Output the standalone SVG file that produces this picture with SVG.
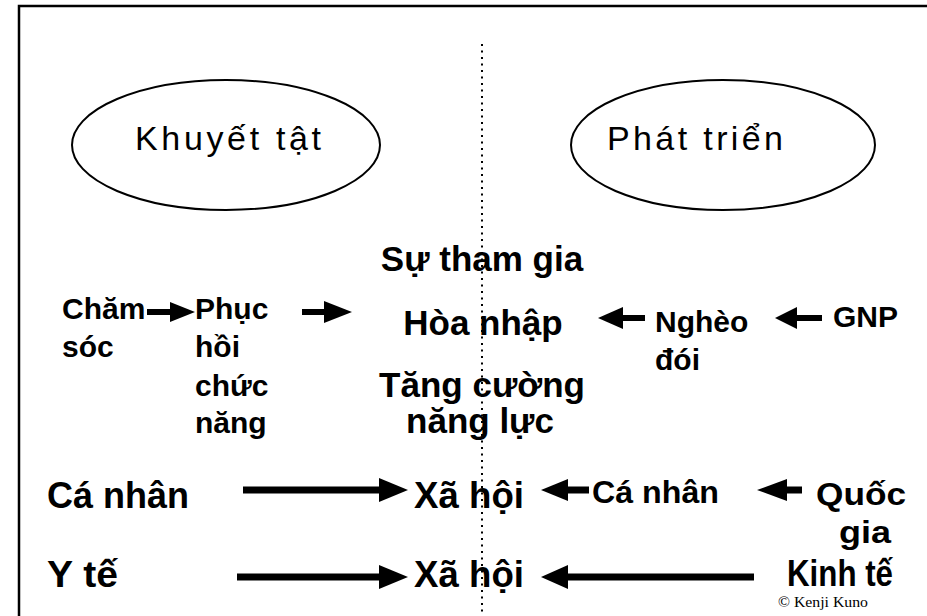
<svg xmlns="http://www.w3.org/2000/svg" width="927" height="616" viewBox="0 0 927 616">
<defs>
<style>
.t{font-family:"Liberation Sans",Arial,sans-serif;fill:#000}
.b{font-weight:bold}
.big{font-size:37px}
.mid{font-size:35px}
.sm{font-size:30px}
.ell{fill:none;stroke:#000;stroke-width:2}
.sh{stroke:#000;fill:none}
.hd{fill:#000}
</style>
</defs>
<rect x="19" y="6" width="920" height="620" fill="#fff" stroke="#000" stroke-width="2.5"/>
<line x1="482" y1="44" x2="482" y2="616" stroke="#000" stroke-width="2" stroke-dasharray="2 4.5"/>
<g id="khuyet-tat">
<ellipse class="ell" cx="226" cy="145" rx="154" ry="65"/>
<text class="t" x="135" y="150" font-size="34" textLength="186" lengthAdjust="spacing">Khuyết tật</text>
</g>
<g id="phat-trien">
<ellipse class="ell" cx="723" cy="145" rx="152" ry="65"/>
<text class="t" x="607" y="150" font-size="34" textLength="176" lengthAdjust="spacing">Phát triển</text>
</g>
<g id="su-tham-gia"><text class="t b mid" x="482" y="271" text-anchor="middle">Sự tham gia</text></g>
<g id="hoa-nhap"><text class="t b mid" x="483" y="335" text-anchor="middle">Hòa nhập</text></g>
<g id="tang-cuong"><text class="t b mid" x="482" y="397" text-anchor="middle">Tăng cường</text><text class="t b mid" x="480" y="433" text-anchor="middle">năng lực</text></g>
<g id="cham-soc"><text class="t b sm" x="62" y="319">Chăm</text><text class="t b sm" x="62" y="357">sóc</text></g>
<g id="phuc-hoi"><text class="t b sm" x="195" y="319">Phục</text><text class="t b sm" x="195" y="357">hồi</text><text class="t b sm" x="195" y="396">chức</text><text class="t b sm" x="195" y="433">năng</text></g>
<g id="ngheo-doi"><text class="t b sm" x="655" y="332">Nghèo</text><text class="t b sm" x="655" y="370">đói</text></g>
<g id="gnp"><text class="t b sm" x="833" y="327">GNP</text></g>
<g id="ca-nhan-left"><text class="t b big" x="47" y="508" textLength="142" lengthAdjust="spacingAndGlyphs">Cá nhân</text></g>
<g id="xa-hoi-1"><text class="t b big" x="414" y="508" textLength="110" lengthAdjust="spacingAndGlyphs">Xã hội</text></g>
<g id="ca-nhan-right"><text class="t b" font-size="31" x="592" y="503" textLength="127" lengthAdjust="spacingAndGlyphs">Cá nhân</text></g>
<g id="quoc-gia"><text class="t b" font-size="32" x="816" y="505" textLength="90" lengthAdjust="spacingAndGlyphs">Quốc</text><text class="t b" font-size="32" x="839" y="543" textLength="52" lengthAdjust="spacingAndGlyphs">gia</text></g>
<g id="y-te"><text class="t b big" x="47" y="587" textLength="71" lengthAdjust="spacingAndGlyphs">Y tế</text></g>
<g id="xa-hoi-2"><text class="t b big" x="414" y="587" textLength="110" lengthAdjust="spacingAndGlyphs">Xã hội</text></g>
<g id="kinh-te"><text class="t b big" x="787" y="586" textLength="106" lengthAdjust="spacingAndGlyphs">Kinh tế</text></g>
<g id="copyright"><text x="778" y="607" font-family="'Liberation Serif','Times New Roman',serif" font-size="15" textLength="90" lengthAdjust="spacingAndGlyphs">© Kenji Kuno</text></g>
<g id="connectors">
<line class="sh" x1="147" y1="312" x2="172" y2="312" stroke-width="6"/><polygon class="hd" points="170,302 195,312 170,322"/>
<line class="sh" x1="302" y1="312" x2="326" y2="312" stroke-width="6"/><polygon class="hd" points="324,301 352,312 324,323"/>
<line class="sh" x1="621" y1="318" x2="645" y2="318" stroke-width="6"/><polygon class="hd" points="623,307 598,318 623,329"/>
<line class="sh" x1="795" y1="318" x2="822" y2="318" stroke-width="6"/><polygon class="hd" points="797,307 775,318 797,329"/>
<line class="sh" x1="243" y1="490" x2="381" y2="490" stroke-width="7"/><polygon class="hd" points="379,478 408,490 379,502"/>
<line class="sh" x1="566" y1="490" x2="589" y2="490" stroke-width="7"/><polygon class="hd" points="568,479 541,490 568,501"/>
<line class="sh" x1="785" y1="490" x2="802" y2="490" stroke-width="7"/><polygon class="hd" points="787,479 757,490 787,501"/>
<line class="sh" x1="237" y1="577" x2="381" y2="577" stroke-width="7"/><polygon class="hd" points="379,565 408,577 379,589"/>
<line class="sh" x1="566" y1="577" x2="754" y2="577" stroke-width="7"/><polygon class="hd" points="568,565 541,577 568,589"/>
</g>
</svg>
